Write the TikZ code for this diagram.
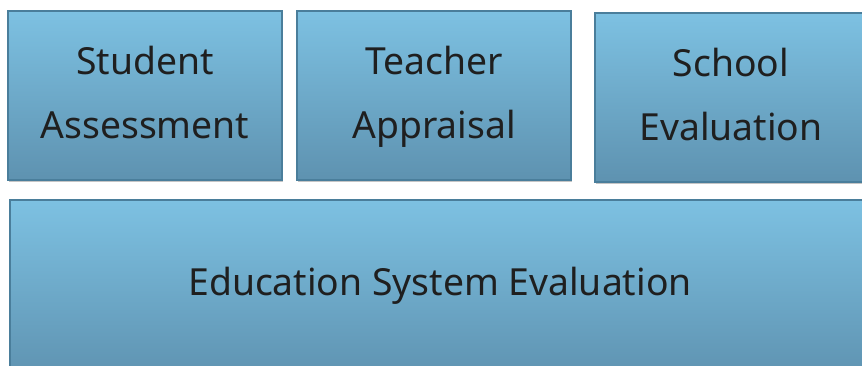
\documentclass[tikz,border=0pt]{standalone}
\usepackage{fontspec}
\setmainfont{Noto Sans}
\usetikzlibrary{shadows}
\definecolor{boxtop}{HTML}{7DC1E2}
\definecolor{boxbot}{HTML}{5E92B0}
\definecolor{boxline}{HTML}{4A7E9B}
\tikzset{
  card/.style={draw=boxline, line width=1.2pt, top color=boxtop, bottom color=boxbot,
    drop shadow={shadow xshift=1pt, shadow yshift=-2pt, fill=black!45, opacity=0.5}},
  lbl/.style={font=\fontsize{37.3}{40}\selectfont, text=black!88, anchor=base, inner sep=0pt}
}
\begin{document}
\begin{tikzpicture}[x=1pt,y=-1pt]
\useasboundingbox (0,0) rectangle (862,365);
\path[card] (8,11) rectangle (282,180);
\path[card] (297,11) rectangle (571,180);
\path[card] (595,13) rectangle (875,182);
\path[card] (10,200) rectangle (875,380);
\node[lbl] (sa1) at (145,74) {Student};
\node[lbl] (sa2) at (145,138) {Assessment};
\node[lbl] (ta1) at (434,74) {Teacher};
\node[lbl] (ta2) at (434,138) {Appraisal};
\node[lbl] (se1) at (731,76) {School};
\node[lbl] (se2) at (731,140) {Evaluation};
\node[lbl] (ese) at (440,295) {Education System Evaluation};
\end{tikzpicture}
\end{document}
